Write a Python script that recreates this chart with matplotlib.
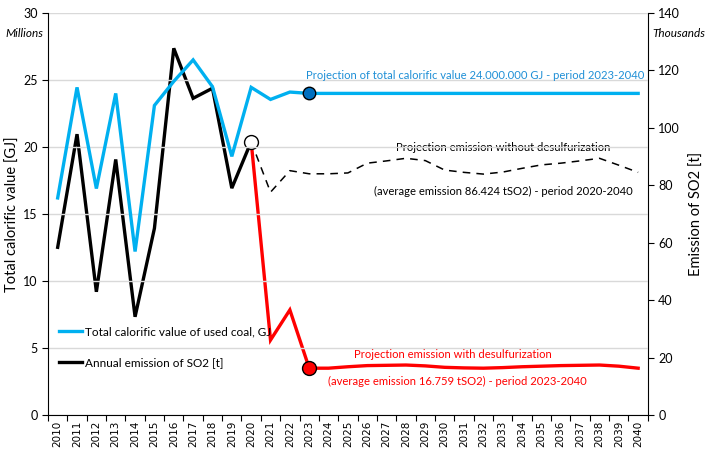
import matplotlib
matplotlib.use('Agg')
from matplotlib import pyplot as plt
from matplotlib.ticker import FixedLocator, NullFormatter

plt.rcParams['font.family'] = ['Lato', 'DejaVu Sans']

# years on the category axis
years = list(range(2010, 2041))

# total calorific value, millions GJ (left axis)
calorific = [16.2, 24.45, 16.9, 24.0, 12.2, 23.1, 24.9, 26.5, 24.5, 19.3, 24.45,
             23.55, 24.1, 24.0, 24.0, 24.0, 24.0, 24.0, 24.0, 24.0, 24.0,
             24.0, 24.0, 24.0, 24.0, 24.0, 24.0, 24.0, 24.0, 24.0, 24.0]

# annual SO2 emission, thousands t (right axis), 2010-2020
emission = [58.4, 97.8, 42.9, 89.0, 34.2, 65.0, 127.7, 110.3, 113.8, 79.0, 95.2]

# projection without desulfurization, 2020-2040
proj_without = [95.2, 77.6, 85.1, 84.0, 84.0, 84.3, 87.7, 88.5, 89.4, 88.6, 85.3,
                84.5, 83.9, 84.6, 85.9, 87.1, 87.7, 88.5, 89.4, 87.0, 84.5]

# projection with desulfurization, 2020-2040
proj_with = [95.2, 26.1, 36.6, 16.3, 16.3, 16.8, 17.2, 17.3, 17.4, 17.1, 16.6,
             16.4, 16.3, 16.5, 16.8, 17.0, 17.2, 17.3, 17.4, 17.0, 16.3]

idx = list(range(len(years)))
idx_proj = idx[10:]

fig = plt.figure(figsize=(7.08, 4.5), dpi=100)
ax = fig.add_axes([0.0678, 0.0778, 0.8472, 0.8933])
ax2 = ax.twinx()

ax.set_zorder(2)
ax.patch.set_visible(False)

lw = 2.4

# left axis series
ax.plot(idx, calorific, color='#00B0F0', linewidth=lw, label='Total calorific value of used coal, GJ',
        solid_joinstyle='miter', zorder=3)
ax.plot([13], [calorific[13]], 'o', markersize=9, markerfacecolor='#0070C0', markeredgecolor='black',
        markeredgewidth=1, zorder=6)

# right axis series
ax2.plot(idx[:11], emission, color='black', linewidth=lw, solid_joinstyle='miter', zorder=3)
ax2.plot(idx_proj, proj_without, color='black', linewidth=1.1, linestyle=(0, (5, 4)), zorder=2)
ax2.plot(idx_proj, proj_with, color='#FF0000', linewidth=lw, solid_joinstyle='miter', zorder=3)
ax2.plot([10], [emission[10]], 'o', markersize=10, markerfacecolor='white', markeredgecolor='black',
         markeredgewidth=1, zorder=6)
ax2.plot([13], [proj_with[3]], 'o', markersize=10, markerfacecolor='#FF0000', markeredgecolor='black',
         markeredgewidth=1, zorder=6)
# legend proxy
ax.plot([], [], color='black', linewidth=lw, label='Annual emission of SO2 [t]')

ax.set_xlim(-0.5, len(years) - 0.5)
ax.set_ylim(0, 30)
ax2.set_ylim(0, 140)
ax.set_yticks([0, 5, 10, 15, 20, 25, 30])
ax2.set_yticks([0, 20, 40, 60, 80, 100, 120, 140])

ax.set_xticks(idx)
ax.set_xticklabels([str(y) for y in years], rotation=90, fontsize=7.5, family='DejaVu Sans')
ax.tick_params(axis='x', length=0, pad=4)
ax.xaxis.set_minor_locator(FixedLocator([i - 0.5 for i in range(len(years) + 1)]))
ax.xaxis.set_minor_formatter(NullFormatter())
ax.tick_params(axis='x', which='minor', length=4, width=0.8, direction='out')

ax.grid(axis='y', color='#D9D9D9', linewidth=1)
ax.set_axisbelow(True)

for a in (ax, ax2):
    a.tick_params(axis='y', labelsize=9, length=4, width=0.8, colors='black')
    a.spines['top'].set_visible(False)
    for s in a.spines.values():
        s.set_color('black')
ax.spines['right'].set_visible(False)
ax2.spines['left'].set_visible(False)
ax2.spines['bottom'].set_visible(False)

ax.set_ylabel('Total calorific value [GJ]', fontsize=10.5)
ax.yaxis.set_label_coords(-0.047, 0.5)
ax2.set_ylabel('Emission of SO2 [t]', fontsize=10.5)
ax2.yaxis.set_label_coords(1.07, 0.5)

fig.text(0.008, 0.925, 'Millions', fontsize=8.5, style='italic', ha='left', va='center')
fig.text(0.922, 0.925, 'Thousands', fontsize=8.5, style='italic', ha='left', va='center')

# annotations
fs = 8.1
ax.text(21.57, 25.37, 'Projection of total calorific value 24.000.000 GJ - period 2023-2040',
        color='#1E8FD6', fontsize=fs, ha='center', va='center')
ax2.text(23.0, 93.3, 'Projection emission without desulfurization',
         color='black', fontsize=fs, ha='center', va='center')
ax2.text(23.04, 77.7, '(average emission 86.424 tSO2) - period 2020-2040',
         color='black', fontsize=fs, ha='center', va='center')
ax2.text(20.4, 20.9, 'Projection emission with desulfurization',
         color='#FF0000', fontsize=fs, ha='center', va='center')
ax2.text(20.67, 11.8, '(average emission 16.759 tSO2) - period 2023-2040',
         color='#FF0000', fontsize=fs, ha='center', va='center')

ax.legend(loc='lower left', bbox_to_anchor=(0.0, 0.09), frameon=False, fontsize=8.5,
          handlelength=2.0, handletextpad=0.2, labelspacing=1.7)

fig.savefig('out.png', dpi=100)
